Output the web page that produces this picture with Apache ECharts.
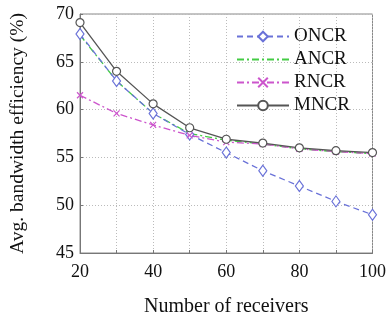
<!DOCTYPE html>
<html>
<head>
<meta charset="utf-8">
<script src="https://cdn.jsdelivr.net/npm/echarts@6/dist/echarts.min.js"></script>
<style>
  html, body { margin: 0; padding: 0; background: #fff; }
  #chart { width: 389px; height: 322px; }
</style>
</head>
<body>
<div id="chart"></div>
<script>
var receivers = [20, 30, 40, 50, 60, 70, 80, 90, 100];
var oncr = [67.9, 63.0, 59.6, 57.4, 55.5, 53.6, 52.0, 50.4, 49.0];
var ancr = [67.8, 63.0, 59.6, 57.5, 56.8, 56.4, 55.9, 55.6, 55.4];
var rncr = [61.5, 59.6, 58.4, 57.3, 56.6, 56.4, 55.9, 55.6, 55.4];
var mncr = [69.1, 64.0, 60.6, 58.1, 56.9, 56.5, 56.0, 55.7, 55.5];

var font = "Liberation Serif";
var crossPath = 'path://M0,0L10,10M10,0L0,10';

function pairs(ys) {
    return receivers.map(function (x, i) { return [x, ys[i]]; });
}

var chart = echarts.init(document.getElementById('chart'));

var option = {
    animation: false,
    backgroundColor: '#fff',
    textStyle: { fontFamily: font },
    grid: {
        left: 78, top: 14, right: 10, bottom: 66,
        show: true, borderColor: '#888', borderWidth: 1
    },
    legend: {
        orient: 'vertical',
        left: 231, top: 22,
        itemWidth: 52, itemHeight: 12,
        itemGap: 4,
        textStyle: { fontFamily: font, fontSize: 19, color: '#111' },
        data: [
            'ONCR',
            // 图例里ANCR不带标记
            { name: 'ANCR', itemStyle: { color: 'rgba(0,0,0,0)', borderWidth: 0 } },
            'RNCR',
            'MNCR'
        ]
    },
    xAxis: {
        type: 'value',
        min: 20, max: 100, interval: 10,
        name: 'Number of receivers',
        nameLocation: 'center',
        nameGap: 44,
        nameTextStyle: { fontFamily: font, fontSize: 20, color: '#111' },
        axisLine: { lineStyle: { color: '#777' } },
        axisTick: { inside: true, length: 3, lineStyle: { color: '#777' } },
        axisLabel: {
            fontFamily: font, fontSize: 18, color: '#111', margin: 10,
            formatter: function (v) { return v % 20 === 0 ? v : ''; }
        },
        splitLine: { lineStyle: { color: '#bbb', type: [1, 2] } }
    },
    yAxis: {
        type: 'value',
        min: 45, max: 70, interval: 5,
        name: 'Avg. bandwidth efficiency (%)',
        nameLocation: 'center',
        nameGap: 52,
        nameTextStyle: { fontFamily: font, fontSize: 19.5, color: '#111' },
        axisLine: { show: true, lineStyle: { color: '#777' } },
        axisTick: { show: true, inside: true, length: 3, lineStyle: { color: '#777' } },
        axisLabel: { fontFamily: font, fontSize: 18, color: '#111', margin: 6 },
        splitLine: { lineStyle: { color: '#bbb', type: [1, 2] } }
    },
    series: [
        {
            name: 'ONCR', type: 'line', data: pairs(oncr),
            symbol: 'diamond', symbolSize: [8, 11],
            itemStyle: { color: '#fff', borderColor: '#6a72d8', borderWidth: 1.2 },
            lineStyle: { color: '#6a72d8', width: 1.3, type: [6, 4] },
            z: 3
        },
        {
            name: 'ANCR', type: 'line', data: pairs(ancr),
            symbol: 'none',
            itemStyle: { color: '#44cc44' },
            lineStyle: { color: '#44cc44', width: 1.3, type: [7, 3, 2, 3] },
            z: 2
        },
        {
            name: 'RNCR', type: 'line', data: pairs(rncr),
            symbol: crossPath, symbolSize: 6,
            itemStyle: { color: '#cc55cc', borderColor: '#cc55cc', borderWidth: 1.2 },
            lineStyle: { color: '#cc55cc', width: 1.3, type: [7, 3, 2, 3] },
            z: 4
        },
        {
            name: 'MNCR', type: 'line', data: pairs(mncr),
            symbol: 'circle', symbolSize: 8,
            itemStyle: { color: '#fff', borderColor: '#555', borderWidth: 1.2 },
            lineStyle: { color: '#555', width: 1.3 },
            z: 5
        }
    ]
};

chart.setOption(option);
</script>
</body>
</html>
